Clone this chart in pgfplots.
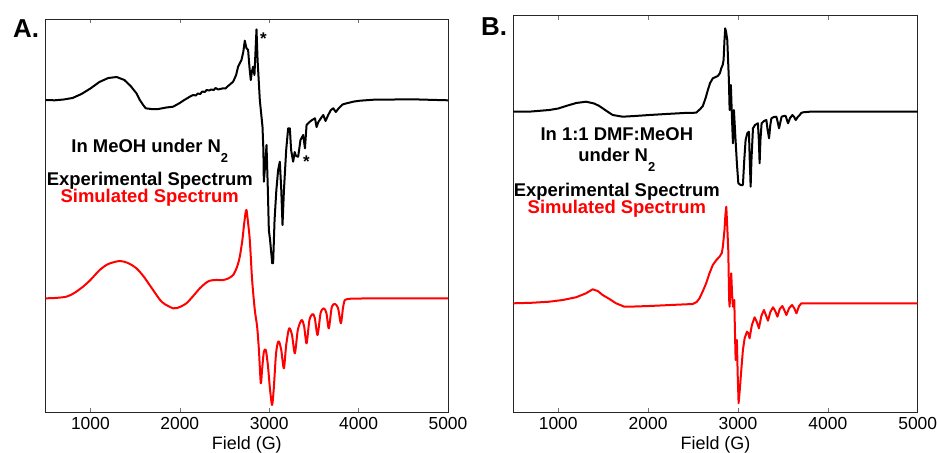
\documentclass[border=0pt]{standalone}
\usepackage{pgfplots}
\pgfplotsset{compat=1.18}
\usepackage{fontspec}
\setmainfont{Liberation Sans}

\pgfplotsset{
  eprax/.style={
    scale only axis, anchor=south west,
    xmin=500, xmax=5000, y dir=reverse,
    xtick={1000,2000,3000,4000,5000}, ytick=\empty,
    tick align=inside, major tick length=4bp,
    axis line style={line width=1bp, black!85},
    tick style={line width=0.6bp, black!55},
    /pgf/number format/assume math mode=true,
    /pgf/number format/1000 sep={},
    ticklabel style={font=\fontsize{17.5}{17.5}\selectfont},
    xticklabel style={yshift=-2bp},
    xlabel={Field (G)},
    xlabel style={at={(axis description cs:0.5,0)}, anchor=base, yshift=-37.5bp, font=\fontsize{18}{20}\selectfont},
    clip=false,
  },
}
\tikzset{
  spec/.style={line width=2bp, line join=round},
  lbl/.style={anchor=base, font=\fontsize{18.5}{20}\selectfont\bfseries},
}

\begin{document}
\begin{tikzpicture}
\useasboundingbox (0,0) rectangle (937bp,453bp);

% ---------------- Panel A ----------------
\begin{axis}[eprax, at={(45.7bp,41bp)}, width=402.3bp, height=393bp, ymin=19, ymax=412]
\addplot[spec, black, mark=none] coordinates {
(500,100) (600,100.3) (700,99.5) (800,98) (900,94) (1000,88.5) (1100,82) (1200,78) (1294,77)
(1380,80) (1450,86) (1515,93.3) (1553,100) (1590,105) (1619,108.3) (1680,109) (1760,109)
(1850,107.5) (1925,106.7) (2000,103) (2050,100) (2112,96.7) (2150,95) (2180,95.5) (2200,93.5)
(2230,94) (2250,91.5) (2280,92) (2299,90) (2330,90.5) (2350,89.5) (2380,90) (2400,88) (2430,89.5)
(2450,89) (2485,88.3) (2510,88.5) (2540,86) (2580,83) (2597,81.7) (2630,75) (2652,66.7) (2690,60)
(2710,52) (2727,40.7) (2745,48) (2764,50) (2780,68) (2794,80) (2806,72) (2820,66.7) (2835,75)
(2845,55) (2858,29.3) (2870,60) (2895,100) (2925,126.7) (2935,150) (2940,181.7) (2955,165)
(2970,145) (2985,190) (2996,230) (3010,240) (3020,250) (3034,263.3) (3044,263) (3060,220)
(3080,190) (3100,170) (3119,161.7) (3135,190) (3149,225) (3165,190) (3190,150) (3212,128.3)
(3231,128.3) (3245,150) (3268,161.7) (3285,152) (3300,156) (3324,156.7) (3350,140) (3380,135)
(3400,148.3) (3418,125) (3450,122) (3480,120) (3512,118.3) (3530,127) (3550,122) (3580,118)
(3605,115) (3630,121) (3660,115) (3690,110) (3717,108.3) (3745,112) (3780,108) (3820,104.5)
(3866,103.3) (3950,101.5) (4015,100.7) (4200,99.5) (4400,99.5) (4600,99.3) (4800,99.8) (5000,100.3)
};
\addplot[spec, red, mark=none, smooth, tension=0.45] coordinates {
(500,298.3) (600,298) (731,296.7) (820,293) (917,286.7) (1000,280) (1104,270) (1200,264) (1327,261)
(1420,263) (1515,268.3) (1600,277) (1701,290) (1800,302) (1925,308.3) (2000,307) (2074,303.3)
(2150,296) (2224,288.3) (2290,283) (2336,280.7) (2400,280) (2485,280) (2540,278.5) (2597,275)
(2640,267) (2671,256.7) (2700,240) (2716,226.7) (2735,213) (2746,210) (2760,220) (2783,240)
(2809,280) (2839,310) (2865,326.7) (2885,350) (2906,383.3) (2920,370) (2940,352) (2962,350)
(2985,365) (3010,390) (3032,405) (3050,390) (3075,355) (3095,343) (3111,341.7) (3135,350)
(3164,368.3) (3190,345) (3223,328.3) (3255,335) (3287,353.3) (3320,330) (3362,320) (3390,326)
(3418,343.3) (3450,320) (3485,314) (3510,318) (3541,335) (3575,313) (3611,308.3) (3640,313)
(3667,328.3) (3700,307) (3735,304) (3770,308) (3802,323.3) (3825,308) (3847,300) (3900,298.8)
(3940,298.7) (4200,298.3) (5000,298.3)
};
\node[lbl] at (axis cs:1664,152.7)
  {In MeOH under N\raisebox{-10bp}{\fontsize{13}{13}\selectfont 2}};
\node[lbl] at (axis cs:1664,185) {Experimental Spectrum};
\node[lbl, text=red] at (axis cs:1664,202) {Simulated Spectrum};
\node[font=\fontsize{17}{17}\selectfont\bfseries] at (axis cs:2935,39) {*};
\node[font=\fontsize{17}{17}\selectfont\bfseries] at (axis cs:3415,162) {*};
\end{axis}

% ---------------- Panel B ----------------
\begin{axis}[eprax, at={(513.3bp,41bp)}, width=404.4bp, height=396.3bp, ymin=15.7, ymax=412]
\addplot[spec, black, mark=none] coordinates {
(500,111.7) (700,111.5) (900,110) (1000,108.5) (1086,106) (1200,103) (1309,101.7) (1400,103.5)
(1457,106) (1530,110.5) (1606,115) (1717,116.7) (1850,116) (2015,115) (2200,114) (2400,113)
(2535,112.7) (2580,109) (2609,106) (2640,98) (2665,90) (2690,83) (2720,78.3) (2776,76) (2800,73)
(2814,68.3) (2830,65) (2840,60) (2850,40) (2858,28.3) (2868,32) (2881,40) (2890,60) (2899,80)
(2907,110) (2914,95) (2921,85) (2932,115) (2944,143.3) (2950,125) (2955,110) (2970,135)
(2988,163.3) (3004,183.3) (3030,185) (3055,185) (3070,160) (3085,140) (3105,133) (3122,131.7)
(3131,160) (3141,186.7) (3150,160) (3167,128.3) (3190,125) (3222,123.3) (3232,140) (3241,163.3)
(3250,140) (3263,123.3) (3290,121) (3316,120) (3330,130) (3346,138.3) (3360,125) (3372,118.3)
(3400,117) (3427,116.7) (3442,122) (3457,128.3) (3472,122) (3486,116.7) (3510,116) (3531,116)
(3545,120) (3557,123.3) (3580,118) (3606,115) (3625,117) (3643,120) (3665,117) (3687,115)
(3705,113) (3724,112.3) (3800,111.7) (5000,111.7)
};
\addplot[spec, red, mark=none] coordinates {
(500,303.3) (700,302.8) (900,301.7) (1050,300) (1197,297.3) (1309,293.3) (1383,289.3) (1440,291)
(1494,295) (1570,299) (1643,303.3) (1736,306.7) (1850,306.5) (2015,306) (2250,305) (2497,304)
(2540,302) (2572,298.3) (2610,291) (2646,283.3) (2680,274) (2720,265) (2760,260) (2795,256.7)
(2820,253) (2832,246.7) (2850,230) (2860,215) (2870,206.7) (2880,225) (2892,250) (2898,280)
(2902,300) (2907,306.7) (2915,290) (2925,273.3) (2935,295) (2944,306.7) (2950,303) (2959,300)
(2966,330) (2974,360) (2981,350) (2988,340) (2997,375) (3007,403.3) (3020,390) (3037,370)
(3055,350) (3074,338.3) (3100,331.7) (3115,333) (3129,338.3) (3155,325) (3185,317.3) (3210,322)
(3233,328.3) (3260,316) (3289,310) (3310,315) (3334,320.7) (3360,312) (3390,307.3) (3415,311)
(3439,316.7) (3465,309) (3494,306) (3515,310) (3539,315) (3570,308) (3602,305) (3625,308)
(3651,313.3) (3680,306) (3706,303.3) (5000,303.3)
};
\node[lbl] at (axis cs:1652,141) {In 1:1 DMF:MeOH};
\node[lbl] at (axis cs:1652,161.7)
  {under N\raisebox{-10bp}{\fontsize{13}{13}\selectfont 2}};
\node[lbl] at (axis cs:1652,196) {Experimental Spectrum};
\node[lbl, text=red] at (axis cs:1652,213) {Simulated Spectrum};
\end{axis}

\node[anchor=base west, inner sep=0pt, font=\fontsize{26}{28}\selectfont\bfseries] at (13bp,415.5bp) {A.};
\node[anchor=base west, inner sep=0pt, font=\fontsize{26}{28}\selectfont\bfseries] at (481bp,417bp) {B.};
\end{tikzpicture}
\end{document}
